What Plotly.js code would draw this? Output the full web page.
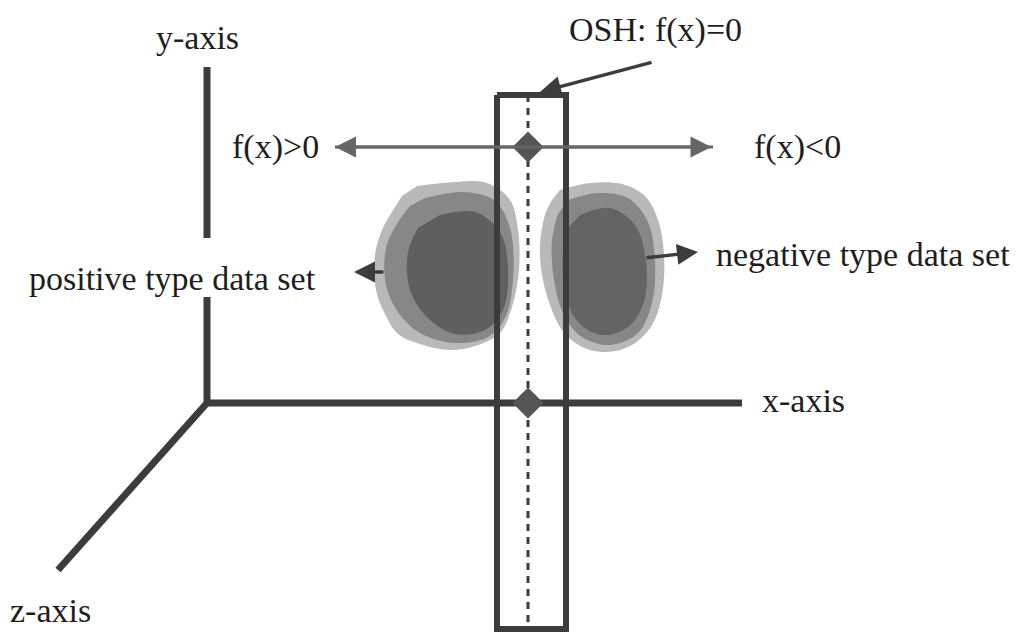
<!DOCTYPE html>
<html>
<head>
<meta charset="utf-8">
<script src="https://cdn.plot.ly/plotly-3.0.1.min.js"></script>
<style>html,body{margin:0;padding:0;background:#fff;}#chart{width:1017px;height:633px;}</style>
</head>
<body>
<div id="chart"></div>
<script>
// ---- diagram geometry (pixel space) ----
const axisX = [207, 207, null, 207, 207, null, 207, 742, null, 207, 58];
const axisY = [67, 238, null, 297, 403, null, 403, 403, null, 403, 570];

const rectX = [497, 566, 566, 497, 497];
const rectY = [95, 95, 629, 629, 95];

const hyperX = [528, 528];
const hyperY = [95, 629];

const diamondX = [528, 528];
const diamondY = [147, 403];

// positive-type cloud outline (outer / middle / dense core)
const posOuterX = [417, 455, 487, 510, 518, 519, 512, 500, 475, 450, 420, 398, 384, 376, 375, 382, 392, 402];
const posOuterY = [186, 182, 183, 200, 230, 270, 307, 333, 346, 350, 344, 334, 312, 290, 255, 230, 212, 196];
const posMidX = [425, 462, 494, 510, 513, 505, 488, 455, 420, 398, 386, 386, 398, 410];
const posMidY = [198, 192, 200, 228, 280, 318, 337, 343, 333, 312, 285, 248, 222, 206];
const posInnerX = [440, 475, 500, 508, 503, 485, 455, 428, 410, 408, 418];
const posInnerY = [215, 212, 232, 270, 310, 330, 334, 318, 290, 252, 228];

// negative-type cloud outline
const negOuterX = [560, 590, 622, 645, 658, 664, 662, 652, 632, 605, 580, 562, 550, 542, 540, 545, 552];
const negOuterY = [190, 183, 184, 196, 220, 255, 295, 325, 345, 352, 346, 330, 305, 275, 245, 215, 200];
const negMidX = [568, 598, 628, 648, 655, 652, 638, 610, 582, 564, 554, 552, 558];
const negMidY = [200, 193, 198, 222, 262, 303, 333, 345, 337, 315, 280, 240, 214];
const negInnerX = [580, 610, 635, 646, 644, 628, 602, 578, 565, 563, 568];
const negInnerY = [215, 208, 225, 262, 302, 327, 335, 322, 292, 252, 228];

// labels
const labelText = ["y-axis", "x-axis", "z-axis", "OSH: f(x)=0", "f(x)>0", "f(x)<0",
                   "positive type data set", "negative type data set"];
const labelX = [197, 760, 8, 655, 230, 752, 318, 714];
const labelY = [37, 400, 610, 30, 147, 147, 278, 254];
const labelAnchor = ["center", "left", "left", "center", "left", "left", "right", "left"];

// arrows: tail -> head
const arrowTailX = [653, 385, 645];
const arrowTailY = [62, 272, 258];
const arrowHeadX = [540, 354, 698];
const arrowHeadY = [92, 272, 252];
// double-headed margin arrow
const marginArrowX = [335, 713];
const marginArrowY = [147, 147];

const ink = '#3c3c3c';
const serif = 'Liberation Serif';
const font = {family: serif, size: 34, color: '#1e1e1e'};

const cloud = (xs, ys, c) => ({x: xs, y: ys, mode: 'lines', fill: 'toself', fillcolor: c,
  line: {width: 0, color: 'rgba(0,0,0,0)', shape: 'spline'}, hoverinfo: 'skip'});

const traces = [
  cloud(posOuterX, posOuterY, 'rgb(185,185,185)'),
  cloud(posMidX, posMidY, 'rgb(135,135,135)'),
  cloud(posInnerX, posInnerY, 'rgb(95,95,95)'),
  cloud(negOuterX, negOuterY, 'rgb(185,185,185)'),
  cloud(negMidX, negMidY, 'rgb(135,135,135)'),
  cloud(negInnerX, negInnerY, 'rgb(100,100,100)'),
  {x: axisX, y: axisY, mode: 'lines', line: {color: ink, width: 7}, connectgaps: false, hoverinfo: 'skip'},
  {x: rectX, y: rectY, mode: 'lines', line: {color: ink, width: 6}, hoverinfo: 'skip'},
  {x: hyperX, y: hyperY, mode: 'lines', line: {color: ink, width: 3, dash: '7px,6px'}, hoverinfo: 'skip'},
  {x: marginArrowX, y: marginArrowY, mode: 'lines', line: {color: '#666', width: 3}, hoverinfo: 'skip'},
  {x: diamondX, y: diamondY, mode: 'markers', marker: {symbol: 'diamond', size: 24, color: '#555'}, hoverinfo: 'skip'}
];

const annotations = [];
labelText.forEach((t, i) => {
  annotations.push({x: labelX[i], y: labelY[i], xref: 'x', yref: 'y', text: t, showarrow: false,
    xanchor: labelAnchor[i], yanchor: 'middle', font: font});
});
arrowTailX.forEach((tx, i) => {
  annotations.push({x: arrowHeadX[i], y: arrowHeadY[i], ax: tx, ay: arrowTailY[i],
    xref: 'x', yref: 'y', axref: 'x', ayref: 'y', text: '', showarrow: true,
    arrowhead: 2, arrowsize: 1.2, arrowwidth: 3.5, arrowcolor: ink});
});
annotations.push({x: marginArrowX[0], y: marginArrowY[0], ax: marginArrowX[1], ay: marginArrowY[1],
  xref: 'x', yref: 'y', axref: 'x', ayref: 'y', text: '', showarrow: true,
  arrowhead: 2, startarrowhead: 2, arrowside: 'end+start', arrowsize: 1.4, startarrowsize: 1.4,
  arrowwidth: 3, arrowcolor: '#666'});

const layout = {
  width: 1017, height: 633,
  margin: {l: 0, r: 0, t: 0, b: 0},
  paper_bgcolor: '#fff', plot_bgcolor: '#fff',
  showlegend: false,
  font: {family: serif},
  xaxis: {range: [0, 1017], visible: false, fixedrange: true},
  yaxis: {range: [633, 0], visible: false, fixedrange: true},
  annotations: annotations
};

Plotly.newPlot('chart', traces, layout, {displayModeBar: false, staticPlot: true});
</script>
</body>
</html>
